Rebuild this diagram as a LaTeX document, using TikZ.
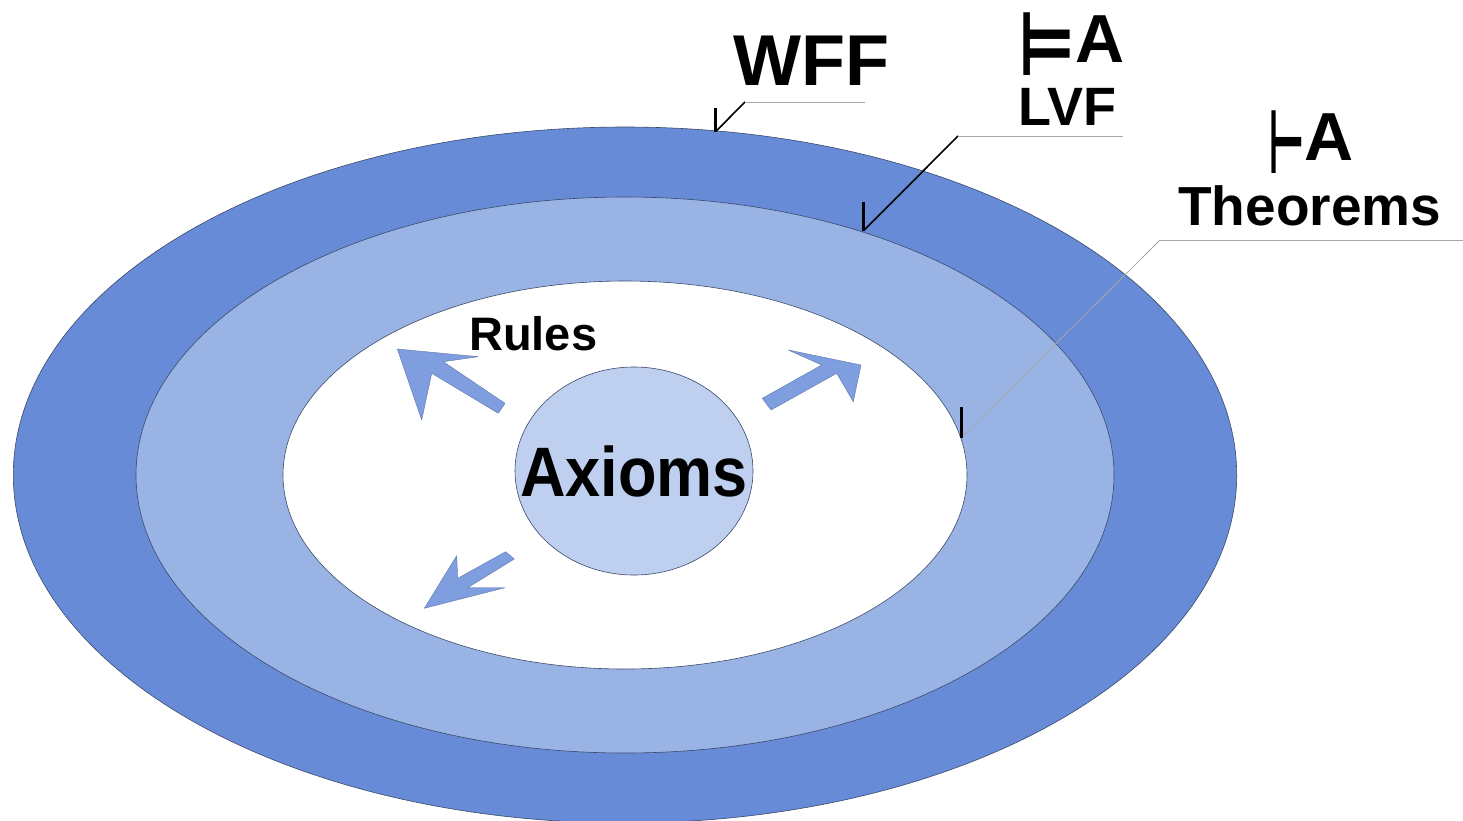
\documentclass[tikz,border=0pt]{standalone}
\usepackage{graphicx}
\usepackage{fontspec}
\setmainfont{Liberation Sans}
\newfontfamily\dejavu{DejaVu Sans}
\usetikzlibrary{shapes.geometric}
\definecolor{outerc}{HTML}{688BD8}
\definecolor{midc}{HTML}{98B3E4}
\definecolor{axc}{HTML}{BECFF0}
\definecolor{arrc}{HTML}{7F9EE0}
\definecolor{ringline}{HTML}{3A4A6A}
\definecolor{leadgray}{HTML}{A8A8A8}
\newcommand{\fsz}[1]{\fontsize{#1pt}{#1pt}\selectfont}
\begin{document}
\begin{tikzpicture}[x=1pt,y=-1pt,
  ring/.style={ellipse,draw=ringline,line width=0.6pt,inner sep=0pt},
  lbl/.style={anchor=base west,inner sep=0pt},
  symlbl/.style={lbl,text depth=0pt},
  blockarrow/.style={fill=arrc,draw=arrc!75!black,line width=0.4pt,line join=round},
  tickmark/.style={line width=3pt,black},
  leader/.style={line width=1.6pt,black},
  thinleader/.style={line width=0.8pt,leadgray},
  shelf/.style={line width=0.8pt,leadgray}]
\useasboundingbox (0,0) rectangle (1463,820);
\fill[white] (0,0) rectangle (1463,820);
% rings
\node[ring,fill=outerc,minimum width=1223.4pt,minimum height=696pt] (wff) at (625,475) {};
\node[ring,fill=midc,minimum width=978pt,minimum height=556pt] (lvf) at (625,475) {};
\node[ring,fill=white,minimum width=684pt,minimum height=388pt] (thm) at (625,475) {};
\node[ring,fill=axc,minimum width=238pt,minimum height=208pt] (ax) at (634,471) {};
\node[inner sep=0pt,font=\bfseries\fsz{70}] (axt) at (ax.center) {\scalebox{0.9}[1]{Axioms}};
% rule arrows
\draw[blockarrow] (397.3,349) -- (421.7,420) -- (431.7,373.3) -- (498.3,413.3) -- (505,403.3) -- (443.3,361.7) -- (478.3,356.7) -- cycle;
\draw[blockarrow] (861,365) -- (788.3,350) -- (821.7,365) -- (762.3,398.3) -- (771,410) -- (836.7,373.3) -- (853.3,401.7) -- cycle;
\draw[blockarrow] (424.3,608.3) -- (456.7,555.7) -- (457.7,578.3) -- (505.7,551.7) -- (514.3,559) -- (467.7,587.7) -- (505,587.7) -- cycle;
\node[lbl,font=\bfseries\fsz{47}] (rules) at (469,350) {Rules};
% labels
\node[lbl,font=\bfseries\fsz{72}] (wffl) at (733,85) {WFF};
\node[symlbl,font=\bfseries\fsz{68}] (lvfsym) at (1018,62) {\smash{\raisebox{-13pt}{\scalebox{0.7}[1]{\dejavu\fsz{89}⊨}}}A};
\node[lbl,font=\bfseries\fsz{54}] (lvfl) at (1018,125) {LVF};
\node[symlbl,font=\bfseries\fsz{68}] (thmsym) at (1268,160) {\smash{\raisebox{-13pt}{\scalebox{0.45}[1]{\dejavu\fsz{89}⊢}}}A};
\node[lbl,font=\bfseries\fsz{55}] (thml) at (1178,225) {Theorems};
% callouts
\coordinate (wffT) at (715.7,131.5);
\coordinate (wffE) at (745,102);
\coordinate (wffS) at (865,102);
\draw[tickmark] (715.7,108) -- (wffT);
\draw[leader] (wffT) -- (wffE);
\draw[shelf] (wffE) -- (wffS);
\coordinate (lvfT) at (863.3,231);
\coordinate (lvfE) at (958,136);
\coordinate (lvfS) at (1123,136);
\draw[tickmark] (863.3,202) -- (lvfT);
\draw[leader] (lvfT) -- (lvfE);
\draw[shelf] (lvfE) -- (lvfS);
\coordinate (thmT) at (961,438);
\coordinate (thmE) at (1160,240);
\coordinate (thmS) at (1463,240);
\draw[thinleader] (thmT) -- (thmE);
\draw[shelf] (thmE) -- (thmS);
\draw[tickmark] (961,407) -- (thmT);
\end{tikzpicture}
\end{document}
